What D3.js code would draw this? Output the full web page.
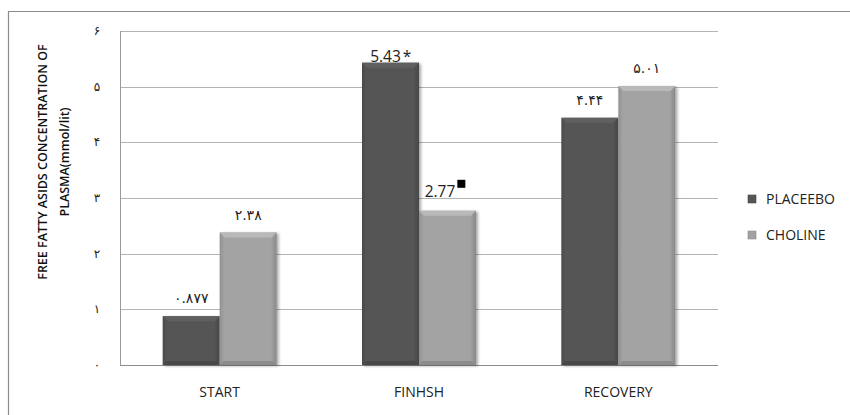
<!DOCTYPE html>
<html>
<head>
<meta charset="utf-8">
<script src="https://cdn.jsdelivr.net/npm/d3@7/dist/d3.min.js"></script>
<style>
  html, body { margin: 0; padding: 0; background: #fff; }
  svg { display: block; }
  .lat { font-family: "Open Sans", Lato, sans-serif; fill: #222; }
  .fa { font-family: "DejaVu Sans", sans-serif; fill: #222; }
</style>
</head>
<body>
<svg id="chart" width="850" height="415"></svg>
<script>
// Plasma free fatty acid concentration by phase, placebo vs choline
const categories = ["START", "FINHSH", "RECOVERY"];
const seriesNames = ["PLACEEBO", "CHOLINE"];
const placebo = [0.877, 5.43, 4.44];
const choline = [2.38, 2.77, 5.01];
const placeboLabels = ["۰.۸۷۷", "5.43", "۴.۴۴"];
const cholineLabels = ["۲.۳۸", "2.77", "۵.۰۱"];
const placeboMarks = ["", "*", ""];
const cholineMarks = ["", "■", ""];
const yTicks = [0, 1, 2, 3, 4, 5, 6];
const yTickLabels = ["۰", "۱", "۲", "۳", "۴", "۵", "۶"];
const yTitle = ["FREE FATTY ASIDS CONCENTRATION OF", "PLASMA(mmol/lit)"];

const svg = d3.select("#chart");
const plot = { left: 120, right: 718, top: 31, bottom: 365 };

const x0 = d3.scaleBand().domain(categories).range([plot.left, plot.right]);
const x1 = d3.scaleBand().domain(seriesNames).range([0, 114]);
const groupOffset = (x0.bandwidth() - 114) / 2;
const y = d3.scaleLinear().domain([0, 6]).range([plot.bottom, plot.top]);

const colors = { PLACEEBO: "#555555", CHOLINE: "#a3a3a3" };

// gradients for bevelled bars
const defs = svg.append("defs");
const shade = (c, k) => d3.color(c).brighter(k).formatHex();
seriesNames.forEach((s, i) => {
  const g = defs.append("linearGradient").attr("id", "g" + i).attr("x1", 0).attr("x2", 1).attr("y1", 0).attr("y2", 0);
  g.append("stop").attr("offset", "0%").attr("stop-color", shade(colors[s], -0.35));
  g.append("stop").attr("offset", "8%").attr("stop-color", colors[s]);
  g.append("stop").attr("offset", "90%").attr("stop-color", colors[s]);
  g.append("stop").attr("offset", "100%").attr("stop-color", shade(colors[s], -0.5));
});
const shadow = defs.append("filter").attr("id", "sh").attr("x", "-20%").attr("y", "-5%").attr("width", "150%").attr("height", "115%");
shadow.append("feGaussianBlur").attr("in", "SourceAlpha").attr("stdDeviation", 1.5).attr("result", "b");
shadow.append("feOffset").attr("in", "b").attr("dx", 2).attr("dy", 1).attr("result", "o");
shadow.append("feComponentTransfer").attr("in", "o").attr("result", "o2")
  .append("feFuncA").attr("type", "linear").attr("slope", 0.35);
const fm = shadow.append("feMerge");
fm.append("feMergeNode").attr("in", "o2");
fm.append("feMergeNode").attr("in", "SourceGraphic");

// outer frame
svg.append("path").attr("d", "M8.5,420 V11.5 H860").attr("fill", "none").attr("stroke", "#8c8c8c").attr("stroke-width", 1.2);

// gridlines
svg.append("g").selectAll("line").data(yTicks.filter(t => t > 0)).join("line")
  .attr("x1", plot.left).attr("x2", plot.right)
  .attr("y1", d => Math.round(y(d)) + 0.5).attr("y2", d => Math.round(y(d)) + 0.5)
  .attr("stroke", "#b4b4b4").attr("stroke-width", 1);

// axes lines
svg.append("line").attr("x1", plot.left + 0.5).attr("x2", plot.left + 0.5).attr("y1", plot.top).attr("y2", plot.bottom)
  .attr("stroke", "#9a9a9a");
svg.append("line").attr("x1", plot.left).attr("x2", plot.right).attr("y1", plot.bottom + 0.5).attr("y2", plot.bottom + 0.5)
  .attr("stroke", "#8c8c8c");

// y tick labels
svg.append("g").selectAll("text").data(yTicks).join("text")
  .attr("class", "fa").attr("x", 97).attr("y", d => y(d) + 4)
  .attr("text-anchor", "middle").attr("font-size", 12)
  .text((d, i) => yTickLabels[i]);

// y title
const yt = svg.append("text").attr("class", "lat").attr("transform", "translate(0,162) rotate(-90)")
  .attr("text-anchor", "middle").attr("font-size", 12.5).attr("font-weight", 600).style("fill", "#111");
yt.append("tspan").attr("x", 0).attr("y", 47).text(yTitle[0]);
yt.append("tspan").attr("x", 0).attr("y", 69).text(yTitle[1]);

// bars
const rows = categories.map((c, i) => ({
  c, vals: [placebo[i], choline[i]],
  labs: [placeboLabels[i], cholineLabels[i]],
  marks: [placeboMarks[i], cholineMarks[i]]
}));
const groups = svg.append("g").selectAll("g").data(rows).join("g")
  .attr("transform", d => `translate(${x0(d.c) + groupOffset},0)`);

const bars = groups.selectAll("g.bar")
  .data(d => d.vals.map((v, j) => ({ v, j, s: seriesNames[j], lab: d.labs[j], mark: d.marks[j] })))
  .join("g").attr("class", "bar");

bars.append("rect")
  .attr("x", d => x1(d.s)).attr("width", x1.bandwidth())
  .attr("y", d => y(d.v)).attr("height", d => y(0) - y(d.v))
  .attr("fill", d => `url(#g${d.j})`).attr("filter", "url(#sh)");
// top bevel
bars.append("path")
  .attr("d", d => {
    const xa = x1(d.s), xb = xa + x1.bandwidth(), yt0 = y(d.v), b = 5;
    return `M${xa},${yt0} H${xb} L${xb - b},${yt0 + b} H${xa + b} Z`;
  })
  .attr("fill", d => shade(colors[d.s], 0.35));
// bottom bevel
bars.append("path")
  .attr("d", d => {
    const xa = x1(d.s), xb = xa + x1.bandwidth(), yb = y(0), b = 4;
    return `M${xa},${yb} H${xb} L${xb - b},${yb - b} H${xa + b} Z`;
  })
  .attr("fill", d => shade(colors[d.s], -0.45));

// value labels: Persian numerals use an Arabic-capable face, Latin ones carry a marker
const isLatin = s => /[0-9]/.test(s);
bars.filter(d => !isLatin(d.lab)).append("text")
  .attr("class", "fa")
  .attr("x", d => x1(d.s) + x1.bandwidth() / 2)
  .attr("y", d => y(d.v) - 13)
  .attr("text-anchor", "middle").attr("font-size", 14)
  .attr("letter-spacing", 2.5)
  .text(d => d.lab);

bars.filter(d => isLatin(d.lab)).each(function (d) {
  const g = d3.select(this);
  const cx = x1(d.s) + x1.bandwidth() / 2;
  const t = g.append("text").attr("class", "lat").attr("font-size", 15.5)
    .attr("y", d.mark === "*" ? y(d.v) - 1 : y(d.v) - 14).text(d.lab);
  const w = t.node().getComputedTextLength();
  if (d.mark === "*") {
    const total = w + 10;
    t.attr("x", cx - total / 2);
    g.append("text").attr("class", "lat").attr("font-size", 15.5)
      .attr("x", cx - total / 2 + w + 2).attr("y", y(d.v) - 1).text("*");
  } else {
    const total = w + 11;
    t.attr("x", cx - total / 2 - 2);
    g.append("rect").attr("x", cx - total / 2 - 2 + w + 2).attr("y", y(d.v) - 31)
      .attr("width", 8).attr("height", 8).attr("fill", "#000");
  }
});

// category labels
svg.append("g").selectAll("text").data(categories).join("text")
  .attr("class", "lat").attr("x", d => x0(d) + x0.bandwidth() / 2).attr("y", 397)
  .attr("text-anchor", "middle").attr("font-size", 14).text(d => d);

// legend
const lg = svg.append("g").selectAll("g").data(seriesNames).join("g")
  .attr("transform", (d, i) => `translate(748,${195 + i * 36})`);
lg.append("rect").attr("width", 8).attr("height", 8).attr("fill", (d, i) => `url(#g${i})`)
  .attr("stroke", d => shade(colors[d], -0.4)).attr("stroke-width", 0.6);
lg.append("text").attr("class", "lat").attr("x", 18).attr("y", 9).attr("font-size", 14).text(d => d);
</script>
</body>
</html>
